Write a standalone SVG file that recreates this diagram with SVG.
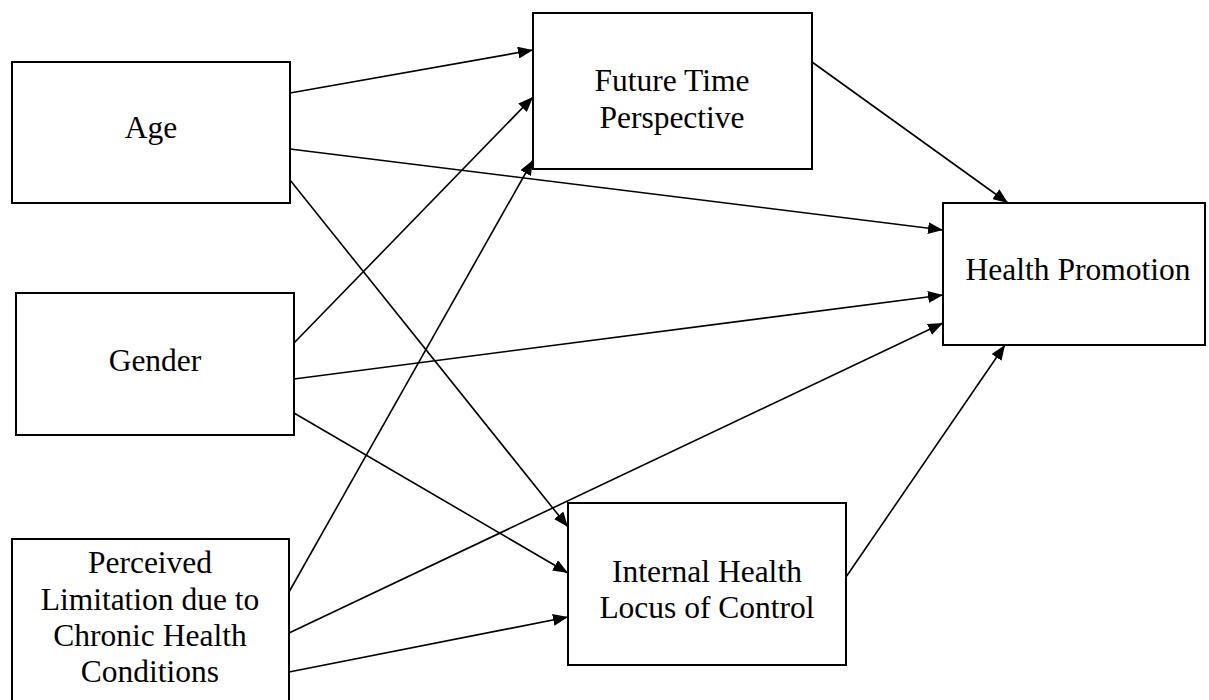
<svg xmlns="http://www.w3.org/2000/svg" width="1209" height="700" viewBox="0 0 1209 700">
<style>
.box{fill:#fff;stroke:#000;stroke-width:2}
.lbl{font-family:"Liberation Serif","Times New Roman",serif;font-size:31.5px;fill:#000;text-anchor:middle}
.edge{stroke:#000;stroke-width:1.6;fill:none;marker-end:url(#ah)}
</style>
<defs>
<marker id="ah" markerUnits="userSpaceOnUse" markerWidth="16" markerHeight="12" refX="15" refY="6" orient="auto">
<path d="M0,0 L15,6 L0,12 z" fill="#000"/>
</marker>
</defs>
<rect width="1209" height="700" fill="#fff"/>
<g id="connectors">
<line class="edge" x1="290" y1="93" x2="533" y2="50"/>
<line class="edge" x1="290" y1="149" x2="943" y2="230"/>
<line class="edge" x1="290" y1="180" x2="568" y2="527"/>
<line class="edge" x1="294" y1="343" x2="533" y2="97"/>
<line class="edge" x1="294" y1="379" x2="943" y2="295"/>
<line class="edge" x1="294" y1="413" x2="568" y2="573"/>
<line class="edge" x1="289" y1="592" x2="533" y2="160"/>
<line class="edge" x1="289" y1="633" x2="943" y2="323"/>
<line class="edge" x1="289" y1="672" x2="568" y2="617"/>
<line class="edge" x1="812" y1="62" x2="1008" y2="203"/>
<line class="edge" x1="846" y1="577" x2="1005" y2="345"/>
</g>
<g id="age">
<rect class="box" x="12" y="62" width="278" height="141"/>
<text class="lbl" x="151" y="138">Age</text>
</g>
<g id="gender">
<rect class="box" x="16" y="293" width="278" height="142"/>
<text class="lbl" x="155" y="371">Gender</text>
</g>
<g id="perceived">
<rect class="box" x="12" y="539" width="277" height="170"/>
<text class="lbl" x="150" y="573">Perceived</text>
<text class="lbl" x="150" y="610">Limitation due to</text>
<text class="lbl" x="150" y="646">Chronic Health</text>
<text class="lbl" x="150" y="682">Conditions</text>
</g>
<g id="ftp">
<rect class="box" x="533" y="13" width="279" height="156"/>
<text class="lbl" x="672" y="91">Future Time</text>
<text class="lbl" x="672" y="128">Perspective</text>
</g>
<g id="hp">
<rect class="box" x="943" y="203" width="262" height="142"/>
<text class="lbl" x="1078" y="280">Health Promotion</text>
</g>
<g id="ihlc">
<rect class="box" x="568" y="503" width="278" height="162"/>
<text class="lbl" x="707" y="582">Internal Health</text>
<text class="lbl" x="707" y="618">Locus of Control</text>
</g>
</svg>
